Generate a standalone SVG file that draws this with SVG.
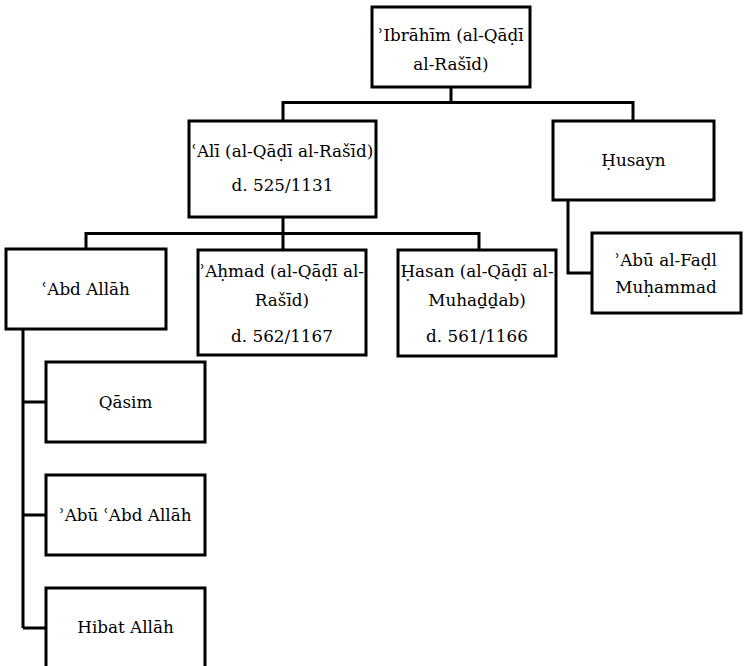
<svg xmlns="http://www.w3.org/2000/svg" width="745" height="666" viewBox="0 0 745 666">
<style>
.box{fill:#fff;stroke:#000;stroke-width:3}
.conn{fill:none;stroke:#000;stroke-width:3}
text{font-family:"DejaVu Serif","Liberation Serif",serif;font-size:16.8px;fill:#000;text-anchor:middle}
</style>
<rect width="745" height="666" fill="#fff"/>
<g id="connectors">
<path class="conn" d="M451 87 V102.5 M283 121 V102.5 H633 V121"/>
<path class="conn" d="M283 217 V250 M86 250 V233.5 H479 V250"/>
<path class="conn" d="M568 200 V273 H592"/>
<path class="conn" d="M23 329 V628 M23 402 H46 M23 515 H46 M23 628 H46"/>
</g>
<g id="ibrahim">
<rect class="box" x="372" y="7" width="158" height="80"/>
<text x="451" y="41">ʾIbrāhīm (al-Qāḍī</text>
<text x="451" y="70">al-Rašīd)</text>
</g>
<g id="ali">
<rect class="box" x="189" y="121" width="187" height="96"/>
<text x="282.5" y="157">ʿAlī (al-Qāḍī al-Rašīd)</text>
<text x="282.5" y="191">d. 525/1131</text>
</g>
<g id="husayn">
<rect class="box" x="553" y="121" width="161" height="79"/>
<text x="633.5" y="166">Ḥusayn</text>
</g>
<g id="abu-al-fadl">
<rect class="box" x="592" y="233" width="149" height="80"/>
<text x="666" y="266">ʾAbū al-Faḍl</text>
<text x="666" y="293">Muḥammad</text>
</g>
<g id="abd-allah">
<rect class="box" x="6" y="249" width="160" height="80"/>
<text x="86" y="295">ʿAbd Allāh</text>
</g>
<g id="ahmad">
<rect class="box" x="198" y="250" width="168" height="105"/>
<text x="282" y="277">ʾAḥmad (al-Qāḍī al-</text>
<text x="282" y="306">Rašīd)</text>
<text x="282" y="342">d. 562/1167</text>
</g>
<g id="hasan">
<rect class="box" x="398" y="250" width="158" height="106"/>
<text x="477" y="277">Ḥasan (al-Qāḍī al-</text>
<text x="477" y="306">Muhaḏḏab)</text>
<text x="477" y="342">d. 561/1166</text>
</g>
<g id="qasim">
<rect class="box" x="46" y="362" width="159" height="80"/>
<text x="125.5" y="408">Qāsim</text>
</g>
<g id="abu-abd-allah">
<rect class="box" x="46" y="475" width="159" height="80"/>
<text x="125.5" y="521">ʾAbū ʿAbd Allāh</text>
</g>
<g id="hibat-allah">
<rect class="box" x="46" y="588" width="159" height="82"/>
<text x="125.5" y="633">Hibat Allāh</text>
</g>
</svg>
